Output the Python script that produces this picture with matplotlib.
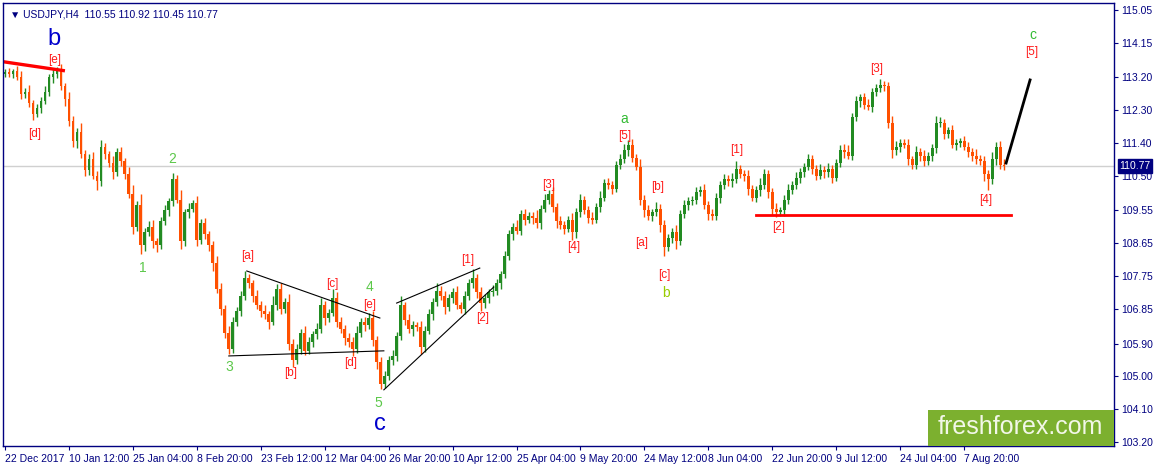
import numpy as np
import matplotlib.pyplot as plt
from matplotlib.patches import Rectangle

plt.rcParams['font.family'] = ['Liberation Sans', 'DejaVu Sans']

# USDJPY H4 closes (one value per ~4 px)
closes = [
    113.35, 113.30, 113.38, 113.22, 112.75, 112.80, 112.50, 112.20, 112.35, 112.55,
    112.80, 113.20, 113.30, 113.40, 112.95, 112.60, 112.00, 111.45, 111.70, 111.10,
    110.65, 110.95, 110.50, 110.35, 111.30, 111.10, 110.85, 110.60, 111.15, 110.90,
    110.55, 110.00, 109.10, 109.70, 108.60, 108.95, 109.10, 108.70, 108.60, 109.25,
    109.55, 109.80, 110.40, 109.85, 108.70, 109.50, 109.60, 109.75, 108.75, 109.20,
    108.90, 108.60, 108.10, 107.40, 106.85, 106.20, 105.75, 106.50, 106.80, 107.20,
    107.70, 107.55, 107.20, 106.95, 106.80, 106.70, 106.50, 106.95, 107.40, 106.85,
    107.05, 105.90, 105.45, 105.75, 106.20, 105.70, 105.95, 106.15, 106.30, 106.95,
    106.60, 106.75, 107.15, 106.50, 106.30, 106.05, 105.95, 105.75, 106.20, 106.50,
    106.40, 106.60, 106.00, 105.40, 104.80, 105.00, 105.45, 105.55, 106.10, 106.95,
    106.55, 106.30, 106.40, 106.35, 105.80, 106.25, 106.70, 107.05, 107.35, 107.20,
    106.90, 107.15, 107.30, 106.95, 106.85, 107.20, 107.55, 107.70, 107.30, 107.00,
    107.15, 107.30, 107.35, 107.55, 107.80, 108.30, 108.90, 109.10, 109.00, 109.45,
    109.30, 109.40, 109.35, 109.20, 109.60, 109.85, 110.00, 109.65, 109.25, 109.15,
    109.05, 109.30, 108.95, 109.50, 109.85, 109.55, 109.35, 109.30, 109.65, 109.90,
    110.30, 110.25, 110.15, 110.80, 110.95, 111.20, 111.35, 111.00, 110.75, 109.85,
    109.55, 109.40, 109.50, 109.60, 109.15, 108.55, 108.80, 108.95, 108.70, 109.45,
    109.70, 109.80, 109.85, 110.05, 110.10, 109.70, 109.45, 109.40, 109.90, 110.25,
    110.40, 110.35, 110.40, 110.70, 110.55, 110.50, 110.15, 109.90, 110.10, 110.25,
    110.55, 110.05, 109.60, 109.50, 109.55, 109.85, 110.10, 110.25, 110.45, 110.60,
    110.75, 110.95, 110.70, 110.50, 110.65, 110.60, 110.70, 110.45, 110.85, 111.20,
    111.15, 111.05, 112.10, 112.55, 112.65, 112.45, 112.40, 112.80, 112.90, 113.00,
    112.95, 111.95, 111.20, 111.30, 111.40, 111.35, 110.95, 110.80, 111.15, 111.05,
    110.90, 111.05, 111.25, 111.95, 111.95, 111.65, 111.75, 111.35, 111.40, 111.45,
    111.30, 111.15, 111.05, 110.95, 110.90, 110.55, 110.40, 110.95, 111.30, 110.80,
    110.77,
]
# wick lengths above / below the candle body
upper_wicks = [
    0.08, 0.10, 0.06, 0.12, 0.15, 0.10, 0.20, 0.08, 0.12, 0.10, 0.15, 0.10, 0.12, 0.08, 0.18,
    0.10, 0.20, 0.15, 0.12, 0.25, 0.10, 0.15, 0.20, 0.12, 0.18,
    0.10, 0.08, 0.20, 0.12, 0.15, 0.10, 0.18, 0.25, 0.10, 0.30, 0.12, 0.15, 0.20, 0.10, 0.12,
    0.15, 0.10, 0.18, 0.12, 0.25, 0.10, 0.15, 0.08, 0.20, 0.12,
    0.15, 0.10, 0.12, 0.20, 0.15, 0.10, 0.18, 0.12, 0.10, 0.15, 0.20, 0.12, 0.10, 0.18, 0.12,
    0.15, 0.10, 0.25, 0.12, 0.15, 0.10, 0.20, 0.12, 0.15, 0.10,
    0.18, 0.12, 0.10, 0.15, 0.20, 0.12, 0.10, 0.25, 0.15, 0.12, 0.10, 0.15, 0.12, 0.18, 0.10,
    0.12, 0.15, 0.20, 0.10, 0.12, 0.15, 0.10, 0.18, 0.12, 0.25,
    0.10, 0.15, 0.12, 0.10, 0.18, 0.12, 0.15, 0.10, 0.20, 0.12, 0.15, 0.10, 0.12, 0.18, 0.10,
    0.15, 0.12, 0.25, 0.10, 0.15, 0.12, 0.10, 0.15, 0.12, 0.10,
    0.15, 0.12, 0.10, 0.18, 0.12, 0.15, 0.10, 0.12, 0.20, 0.10, 0.15, 0.12, 0.18, 0.10, 0.15,
    0.12, 0.10, 0.18, 0.12, 0.15, 0.10, 0.12, 0.15, 0.10, 0.18,
    0.12, 0.15, 0.10, 0.12, 0.15, 0.18, 0.12, 0.15, 0.10, 0.20, 0.12, 0.15, 0.10, 0.18, 0.12,
    0.15, 0.10, 0.12, 0.20, 0.10, 0.15, 0.12, 0.10, 0.15, 0.12,
    0.18, 0.10, 0.15, 0.12, 0.10, 0.15, 0.12, 0.18, 0.20, 0.10, 0.12, 0.15, 0.10, 0.12, 0.18,
    0.15, 0.10, 0.12, 0.15, 0.10, 0.12, 0.18, 0.10, 0.15, 0.12,
    0.10, 0.15, 0.12, 0.10, 0.18, 0.12, 0.15, 0.10, 0.12, 0.15, 0.18, 0.20, 0.12, 0.15, 0.10,
    0.12, 0.15, 0.10, 0.12, 0.15, 0.10, 0.12, 0.18, 0.15, 0.10,
    0.12, 0.15, 0.10, 0.18, 0.12, 0.15, 0.10, 0.12, 0.20, 0.15, 0.12, 0.10, 0.15, 0.12, 0.10,
    0.15, 0.12, 0.10, 0.18, 0.12, 0.15, 0.10, 0.20, 0.12, 0.15,
    0.15,
]
lower_wicks = [
    0.10, 0.08, 0.12, 0.10, 0.15, 0.12, 0.10, 0.18, 0.10, 0.12, 0.08, 0.10, 0.15, 0.12, 0.10,
    0.18, 0.12, 0.15, 0.20, 0.10, 0.15, 0.12, 0.10, 0.25, 0.12,
    0.15, 0.12, 0.18, 0.10, 0.12, 0.15, 0.10, 0.20, 0.12, 0.25, 0.15, 0.10, 0.18, 0.20, 0.12,
    0.10, 0.15, 0.12, 0.10, 0.20, 0.12, 0.15, 0.10, 0.18, 0.12,
    0.12, 0.15, 0.20, 0.12, 0.18, 0.15, 0.15, 0.10, 0.12, 0.15, 0.10, 0.12, 0.15, 0.10, 0.18,
    0.12, 0.20, 0.10, 0.12, 0.15, 0.10, 0.18, 0.20, 0.12, 0.15,
    0.12, 0.10, 0.15, 0.12, 0.10, 0.18, 0.12, 0.10, 0.15, 0.12, 0.18, 0.15, 0.20, 0.10, 0.12,
    0.15, 0.10, 0.18, 0.20, 0.15, 0.12, 0.10, 0.15, 0.12, 0.10,
    0.15, 0.12, 0.18, 0.10, 0.20, 0.12, 0.10, 0.15, 0.12, 0.10, 0.18, 0.12, 0.15, 0.10, 0.12,
    0.15, 0.10, 0.12, 0.15, 0.20, 0.12, 0.15, 0.10, 0.12, 0.15,
    0.10, 0.12, 0.15, 0.10, 0.12, 0.15, 0.10, 0.18, 0.12, 0.15, 0.10, 0.12, 0.15, 0.18, 0.12,
    0.15, 0.10, 0.20, 0.15, 0.12, 0.10, 0.15, 0.12, 0.10, 0.15,
    0.10, 0.12, 0.15, 0.10, 0.12, 0.10, 0.15, 0.12, 0.10, 0.15, 0.18, 0.12, 0.15, 0.10, 0.20,
    0.25, 0.12, 0.15, 0.20, 0.10, 0.12, 0.15, 0.10, 0.12, 0.10,
    0.12, 0.15, 0.10, 0.12, 0.15, 0.10, 0.12, 0.15, 0.10, 0.12, 0.15, 0.18, 0.10, 0.12, 0.15,
    0.10, 0.15, 0.18, 0.12, 0.10, 0.15, 0.12, 0.10, 0.12, 0.15,
    0.12, 0.10, 0.15, 0.12, 0.10, 0.15, 0.12, 0.15, 0.10, 0.12, 0.15, 0.10, 0.12, 0.10, 0.15,
    0.12, 0.10, 0.15, 0.12, 0.10, 0.12, 0.15, 0.20, 0.12, 0.15,
    0.10, 0.15, 0.12, 0.10, 0.15, 0.12, 0.10, 0.15, 0.12, 0.10, 0.15, 0.12, 0.10, 0.15, 0.12,
    0.10, 0.12, 0.15, 0.12, 0.10, 0.20, 0.30, 0.12, 0.15, 0.10,
    0.12,
]
first_open = 113.30
last_price = 110.77

date_labels = ['22 Dec 2017', '10 Jan 12:00', '25 Jan 04:00', '8 Feb 20:00',
               '23 Feb 12:00', '12 Mar 04:00', '26 Mar 20:00', '10 Apr 12:00',
               '25 Apr 04:00', '9 May 20:00', '24 May 12:00', '8 Jun 04:00',
               '22 Jun 20:00', '9 Jul 12:00', '24 Jul 04:00', '7 Aug 20:00']
price_ticks = [115.05, 114.15, 113.20, 112.30, 111.40, 110.50, 109.55, 108.65,
               107.75, 106.85, 105.90, 105.00, 104.10, 103.20]

# wave labels: text, bar index, price, colour, size
wave_labels = [
    ('b', 12.3, 114.25, '#0000cc', 17), ('[e]', 12.3, 113.68, '#ff1a1a', 8.5),
    ('[d]', 7.5, 111.65, '#ff1a1a', 8.5), ('2', 41.8, 110.96, '#5cc84a', 10),
    ('1', 34.5, 107.97, '#5cc84a', 10), ('[a]', 60.8, 108.30, '#ff1a1a', 8.5),
    ('3', 56.0, 105.26, '#5cc84a', 10), ('[b]', 71.5, 105.09, '#ff1a1a', 8.5),
    ('[c]', 81.8, 107.53, '#ff1a1a', 8.5), ('4', 91.3, 107.45, '#5cc84a', 10),
    ('[e]', 91.3, 106.96, '#ff1a1a', 8.5), ('[d]', 86.5, 105.37, '#ff1a1a', 8.5),
    ('5', 93.5, 104.27, '#5cc84a', 10), ('c', 93.8, 103.70, '#0000cc', 17),
    ('[1]', 115.8, 108.19, '#ff1a1a', 8.5), ('[2]', 119.5, 106.60, '#ff1a1a', 8.5),
    ('[3]', 136.0, 110.25, '#ff1a1a', 8.5), ('[4]', 142.3, 108.55, '#ff1a1a', 8.5),
    ('a', 155.0, 112.06, '#33bb33', 10), ('[5]', 155.0, 111.59, '#ff1a1a', 8.5),
    ('[b]', 163.3, 110.20, '#ff1a1a', 8.5), ('[a]', 159.3, 108.66, '#ff1a1a', 8.5),
    ('[c]', 165.0, 107.78, '#ff1a1a', 8.5), ('b', 165.5, 107.29, '#99cc00', 10),
    ('[1]', 183.0, 111.21, '#ff1a1a', 8.5), ('[2]', 193.5, 109.10, '#ff1a1a', 8.5),
    ('[3]', 218.0, 113.43, '#ff1a1a', 8.5), ('[4]', 245.3, 109.84, '#ff1a1a', 8.5),
    ('c', 257.3, 114.36, '#33bb33', 10), ('[5]', 257.0, 113.90, '#ff1a1a', 8.5),
]

navy = '#000080'
fig = plt.figure(figsize=(11.55, 4.66), dpi=100)
ax = fig.add_axes([3 / 1155, 20 / 466, 1111 / 1155, 443 / 466])

closes = np.array(closes)
opens = np.concatenate([[first_open], closes[:-1]])
idx = np.arange(len(closes))
bull = closes >= opens
colors = np.where(bull, '#228b22', '#ff5000')
highs = np.maximum(opens, closes) + np.array(upper_wicks)
lows = np.minimum(opens, closes) - np.array(lower_wicks)

ax.vlines(idx, lows, highs, colors=colors, lw=1)
heights = closes - opens
heights = np.where(np.abs(heights) < 0.02, 0.02, heights)
ax.bar(idx, heights, bottom=opens, width=0.7, color=colors, linewidth=0)

# current price line
ax.axhline(last_price, color='#d0d0d0', lw=1, zorder=0)

# trend lines
ax.plot([-0.5, 15], [113.63, 113.38], color='#ff0000', lw=2.4, solid_capstyle='butt')
ax.plot([188, 251.8], [109.43, 109.43], color='#ff0000', lw=2)
ax.plot([60.5, 93.8], [107.89, 106.60], color='black', lw=0.8)
ax.plot([56, 94.8], [105.56, 105.70], color='black', lw=0.8)
ax.plot([98, 118.8], [107.01, 107.97], color='black', lw=0.8)
ax.plot([94.8, 122.3], [104.63, 107.45], color='black', lw=0.8)
ax.plot([250.5, 256.5], [110.85, 113.13], color='black', lw=2)

for txt, xi, yp, col, sz in wave_labels:
    ax.text(xi, yp, txt, color=col, fontsize=sz, ha='center', va='center')

ax.set_xlim(-0.5, 277.5)
ax.set_ylim(103.09, 115.24)

ax.set_xticks([16 * k for k in range(len(date_labels))])
ax.set_xticklabels(date_labels, ha='left', fontsize=7.5, color=navy)
ax.yaxis.tick_right()
ax.set_yticks(price_ticks)
ax.set_yticklabels([f'{v:.2f}' for v in price_ticks], fontsize=7.5, color=navy)
ax.tick_params(axis='both', direction='out', length=3, width=0.8, color=navy, pad=2)
ax.tick_params(axis='x', pad=3)
for s in ax.spines.values():
    s.set_color(navy)
    s.set_linewidth(1)

# last price tag
ax.annotate(f'{last_price:.2f}', xy=(1.0, last_price), xycoords=('axes fraction', 'data'),
            xytext=(4, 0), textcoords='offset points', va='center', ha='left',
            fontsize=7.5, color='white',
            bbox=dict(boxstyle='square,pad=0.15', fc=navy, ec=navy))

ax.text(0.006, 0.985, '\u25bc USDJPY,H4  110.55 110.92 110.45 110.77',
        transform=ax.transAxes, fontsize=7.5, color=navy, va='top', ha='left')

# watermark
ax.add_patch(Rectangle((0.8326, 0.0), 0.1674, 0.082, transform=ax.transAxes,
                       facecolor='#7cb02f', edgecolor='none', zorder=5))
ax.text(0.916, 0.042, 'freshforex.com', transform=ax.transAxes, fontsize=18,
        color='#f2f7e8', ha='center', va='center', zorder=6)

fig.savefig('out.png', dpi=100)
